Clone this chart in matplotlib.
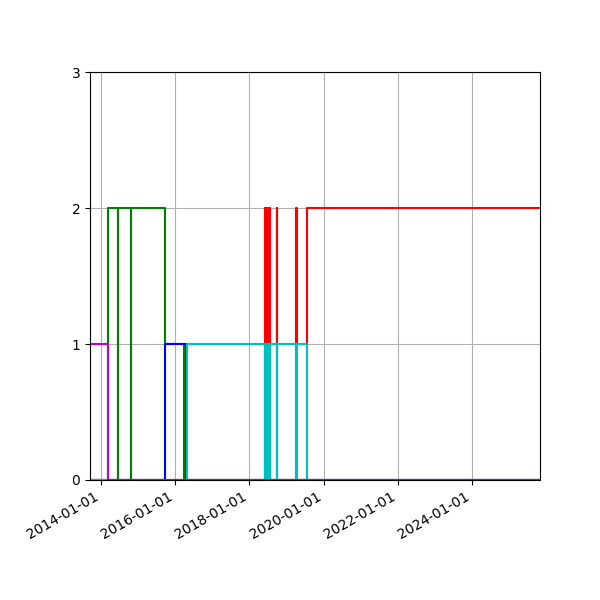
import matplotlib
matplotlib.use("Agg")
import matplotlib.pyplot as plt
import matplotlib.dates as mdates
import pandas as pd

start, end = "2013-09-15", "2025-11-01"

magenta_dates = [start, "2014-03-10", end]
magenta_vals = [1, 0, 0]

green_dates = [start, "2014-03-10", "2014-06-15", "2014-06-20", "2014-10-20", "2014-10-25",
               "2015-09-20", "2016-03-25", end]
green_vals = [0, 2, 0, 2, 0, 2, 1, 0, 0]

blue_dates = [start, "2015-09-20", "2016-04-20", end]
blue_vals = [0, 1, 0, 0]

cyan_dates = [start, "2016-05-01", "2018-06-01", "2018-06-05", "2018-06-12", "2018-06-18",
              "2018-06-25", "2018-07-01", "2018-07-08", "2018-07-14", "2018-07-22", "2018-07-26",
              "2018-09-25", "2018-10-01", "2019-04-05", "2019-04-12", "2019-07-20", end]
cyan_vals = [0, 1, 0, 1, 0, 1, 0, 1, 0, 1, 0, 1, 0, 1, 0, 1, 0, 0]

red_dates = [start, "2018-06-01", "2018-06-05", "2018-06-12", "2018-06-18", "2018-06-25",
             "2018-07-01", "2018-07-08", "2018-07-14", "2018-07-22", "2018-07-26",
             "2018-09-25", "2018-10-01", "2019-04-05", "2019-04-12", "2019-07-20", end]
red_vals = [0, 2, 0, 2, 0, 2, 0, 2, 0, 2, 0, 2, 0, 2, 0, 2, 2]

# drawing order: magenta ends up on top, as in the original
series = [
    (red_dates, red_vals, "r"),
    (green_dates, green_vals, "g"),
    (blue_dates, blue_vals, "b"),
    (cyan_dates, cyan_vals, "c"),
    (magenta_dates, magenta_vals, "m"),
]

fig, ax = plt.subplots(figsize=(6, 6), dpi=100)
for dates, vals, col in series:
    ax.plot(pd.to_datetime(dates), vals, drawstyle="steps-post", color=col, linewidth=1.5)

ax.set_xlim(pd.Timestamp(start), pd.Timestamp(end))
ax.set_ylim(0, 3)
ax.set_yticks([0, 1, 2, 3])
ax.xaxis.set_major_locator(mdates.YearLocator(2))
ax.xaxis.set_major_formatter(mdates.DateFormatter("%Y-%m-%d"))
ax.grid(True)
fig.autofmt_xdate()
fig.subplots_adjust(left=0.15, right=0.9, top=0.88, bottom=0.2)
fig.savefig("out.png")
